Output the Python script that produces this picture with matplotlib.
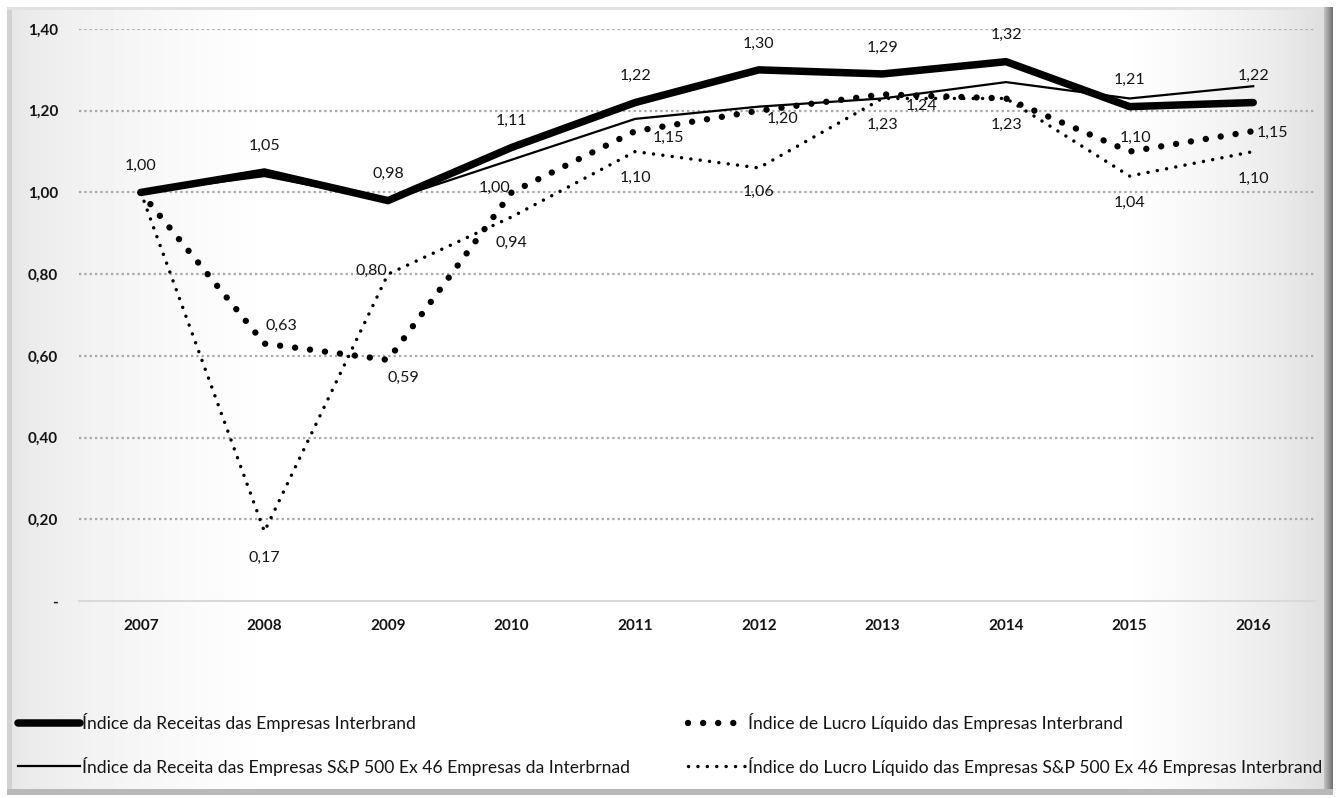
import matplotlib
matplotlib.use("Agg")
import matplotlib.pyplot as plt
import numpy as np

plt.rcParams["font.family"] = ["Lato", "DejaVu Sans"]
plt.rcParams["font.size"] = 11

# dados (índices, base 2007 = 1,00)
anos = ["2007", "2008", "2009", "2010", "2011", "2012", "2013", "2014", "2015", "2016"]
receita_interbrand = [1.00, 1.05, 0.98, 1.11, 1.22, 1.30, 1.29, 1.32, 1.21, 1.22]
lucro_interbrand = [1.00, 0.63, 0.59, 1.00, 1.15, 1.20, 1.24, 1.23, 1.10, 1.15]
receita_sp500 = [1.00, 1.04, 0.98, 1.08, 1.18, 1.21, 1.23, 1.27, 1.23, 1.26]
lucro_sp500 = [1.00, 0.17, 0.80, 0.94, 1.10, 1.06, 1.23, 1.23, 1.04, 1.10]

nomes = [
    "Índice da Receitas das Empresas Interbrand",
    "Índice de Lucro Líquido das Empresas Interbrand",
    "Índice da Receita das Empresas S&P 500 Ex 46 Empresas da Interbrnad",
    "Índice do Lucro Líquido das Empresas S&P 500 Ex 46 Empresas Interbrand",
]

# deslocamento dos rótulos (pontos); None = sem rótulo
off_receita = [(0, 19)] * 10
off_lucro = [None, (12, 13), (11, -13), (-12, 3), (24, -5), (17, -6), (28, -8), None, (4, 10), (14, -1)]
off_lucro_sp = [None, (0, -19), (-12, 2), (0, -19), (0, -19), (0, -17), (0, -19), (0, -19), (0, -19), (0, -20)]

W, H = 1338, 798
fig = plt.figure(figsize=(W / 100, H / 100), dpi=100)

# fundo com moldura e leve degradê
bg = fig.add_axes([0, 0, 1, 1], zorder=-10)
xx, yy = np.meshgrid(np.arange(W), np.arange(H))
esq = 0.90 + 0.10 * np.clip((xx - 12) / 260, 0, 1) ** 0.6
dir_ = 0.86 + 0.14 * np.clip((1324 - xx) / 200, 0, 1) ** 0.6
img = np.minimum(esq, dir_)
img[:, 7:12] = 0.82
img[7:10, :] = 0.88
img[:, 1324:1333] = np.linspace(0.75, 0.45, 9)[None, :]
img[789:795, :] = 0.72
img[:7, :] = 1.0
img[795:, :] = 1.0
img[:, :7] = 1.0
img[:, 1333:] = 1.0
bg.imshow(img, cmap="gray", vmin=0, vmax=1, extent=(0, W, H, 0), aspect="auto")
bg.set_axis_off()

ax = fig.add_axes([79 / W, 1 - 601 / H, (1315 - 79) / W, (601 - 29) / H])
ax.set_facecolor("none")
x = np.arange(len(anos))

l1, = ax.plot(x, receita_interbrand, color="black", lw=5.4,
              solid_capstyle="round", solid_joinstyle="round", zorder=5)
l2, = ax.plot(x, lucro_interbrand, color="black", lw=4.6,
              linestyle=(0, (0.01, 2.35)), dash_capstyle="round", zorder=4)
l3, = ax.plot(x, receita_sp500, color="black", lw=1.6, zorder=3)
l4, = ax.plot(x, lucro_sp500, color="black", lw=2.5,
              linestyle=(0, (0.01, 2.7)), dash_capstyle="round", zorder=4)

cor_txt = "#141414"
for serie, offs in ((receita_interbrand, off_receita),
                    (lucro_interbrand, off_lucro),
                    (lucro_sp500, off_lucro_sp)):
    for i, (v, o) in enumerate(zip(serie, offs)):
        if o is None:
            continue
        ax.annotate(f"{v:.2f}".replace(".", ","), (x[i], v), xytext=o,
                    textcoords="offset points", ha="center", va="center",
                    fontsize=11.5, color=cor_txt, zorder=6)

ax.set_xlim(-0.5, len(anos) - 0.5)
ax.set_ylim(0, 1.4)
yt = np.arange(0, 1.41, 0.2)
ax.set_yticks(yt)
ax.set_yticklabels(["-"] + [f"{t:.2f}".replace(".", ",") for t in yt[1:]])
ax.set_xticks(x)
ax.set_xticklabels(anos)
for lab in ax.get_xticklabels() + ax.get_yticklabels():
    lab.set_fontweight("bold")
    lab.set_color(cor_txt)
ax.tick_params(axis="y", length=0, pad=15)
ax.tick_params(axis="x", length=0, pad=13)

for t in yt[1:]:
    ax.axhline(t, color="#a6a6a6", lw=1.6, linestyle=(0, (1, 1.4)), zorder=1)
for s in ("top", "right", "left"):
    ax.spines[s].set_visible(False)
ax.spines["bottom"].set_color("#d9d9d9")
ax.spines["bottom"].set_linewidth(1.5)

kw = dict(frameon=False, handlelength=3.55, handletextpad=0.1,
          labelspacing=1.4, borderpad=0, borderaxespad=0, prop={"size": 12.6})
leg1 = fig.legend([l1, l3], [nomes[0], nomes[2]], loc="upper left",
                  bbox_to_anchor=(18 / W, 1 - 713 / H), **kw)
kw["handlelength"] = 3.3
leg2 = fig.legend([l2, l4], [nomes[1], nomes[3]], loc="upper left",
                  bbox_to_anchor=(688 / W, 1 - 713 / H), **kw)
for lg in (leg1, leg2):
    for t in lg.get_texts():
        t.set_color(cor_txt)

fig.savefig("out.png", dpi=100)
